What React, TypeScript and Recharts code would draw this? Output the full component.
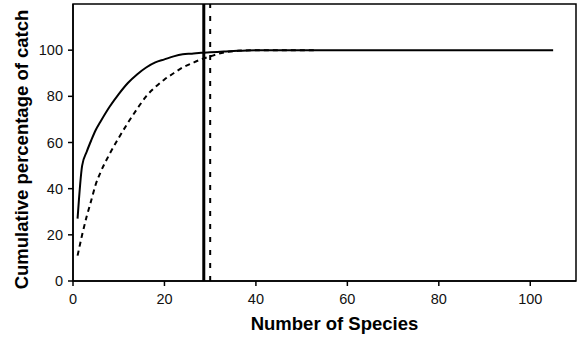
import React from "react";
import {
  LineChart,
  Line,
  XAxis,
  YAxis,
  ReferenceLine,
  ReferenceArea,
  Label,
} from "recharts";

// solid curve: cumulative % of catch by number of species
const speciesSolid = [1, 2, 3, 4, 5, 6, 8, 10, 12, 14, 16, 18, 20, 22, 24, 26, 28, 30, 33, 36, 40, 50, 105];
const catchSolid = [27, 50, 56, 61, 65.5, 69, 75.5, 81, 85.8, 89.5, 92.5, 94.7, 96, 97.3, 98.2, 98.5, 98.9, 99.1, 99.4, 99.7, 100, 100, 100];

// dashed curve
const speciesDashed = [1, 2, 3, 4, 5, 6, 8, 10, 12, 14, 16, 18, 20, 22, 24, 26, 28, 30, 33, 36, 40, 53];
const catchDashed = [11, 20, 28, 35, 42, 47, 55, 62, 68.5, 74.5, 80, 84, 87.3, 90, 92.5, 94.3, 96, 97.3, 99, 99.7, 100, 100];

const xTicks = [0, 20, 40, 60, 80, 100];
const yTicks = [0, 20, 40, 60, 80, 100];
const cutoffSolid = 28.6;
const cutoffDashed = 30;

const solidData = speciesSolid.map((x, i) => ({ x, y: catchSolid[i] }));
const dashedData = speciesDashed.map((x, i) => ({ x, y: catchDashed[i] }));

const FONT = "'Liberation Sans', Arial, sans-serif";
const tickStyle = { fontSize: 14.5, fill: "#111", fontFamily: FONT };

export default function App() {
  return (
    <div style={{ position: "absolute", left: 0, top: 0, background: "#fff" }}>
      <LineChart width={579} height={338} margin={{ top: 4, right: 3, bottom: 17, left: 13 }}>
        <XAxis
          dataKey="x"
          type="number"
          domain={[0, 110]}
          ticks={xTicks}
          allowDuplicatedCategory={false}
          height={40}
          tick={tickStyle}
          tickSize={5}
          tickMargin={8}
          axisLine={{ stroke: "#000", strokeWidth: 1.5 }}
          tickLine={{ stroke: "#000", strokeWidth: 1.5 }}
        >
          <Label
            content={({ viewBox }: any) => (
              <text
                x={viewBox.x + viewBox.width / 2 + 10}
                y={viewBox.y + 49}
                textAnchor="middle"
                fontFamily={FONT}
                fontWeight="bold"
                fontSize={18.5}
                fill="#000"
              >
                Number of Species
              </text>
            )}
          />
        </XAxis>
        <YAxis
          type="number"
          domain={[0, 120]}
          ticks={yTicks}
          width={60}
          tick={tickStyle}
          tickSize={5}
          tickMargin={5}
          axisLine={{ stroke: "#000", strokeWidth: 1.5 }}
          tickLine={{ stroke: "#000", strokeWidth: 1.5 }}
        >
          <Label
            content={({ viewBox }: any) => {
              const cx = viewBox.x + 8;
              const cy = viewBox.y + viewBox.height / 2 + 7;
              return (
                <text
                  x={cx}
                  y={cy}
                  transform={`rotate(-90 ${cx} ${cy})`}
                  textAnchor="middle"
                  dominantBaseline="central"
                  fontFamily={FONT}
                  fontWeight="bold"
                  fontSize={18.5}
                  fill="#000"
                >
                  Cumulative percentage of catch
                </text>
              );
            }}
          />
        </YAxis>
        <ReferenceArea x1={0} x2={110} y1={0} y2={120} fill="none" stroke="#000" strokeWidth={1.5} fillOpacity={0} />
        <ReferenceLine x={cutoffSolid} stroke="#000" strokeWidth={3} />
        <ReferenceLine x={cutoffDashed} stroke="#000" strokeWidth={2} strokeDasharray="5 8" />
        <Line
          data={dashedData}
          dataKey="y"
          type="monotone"
          stroke="#000"
          strokeWidth={2}
          strokeDasharray="5 4"
          dot={false}
          isAnimationActive={false}
        />
        <Line
          data={solidData}
          dataKey="y"
          type="monotone"
          stroke="#000"
          strokeWidth={2}
          dot={false}
          isAnimationActive={false}
        />
      </LineChart>
    </div>
  );
}
